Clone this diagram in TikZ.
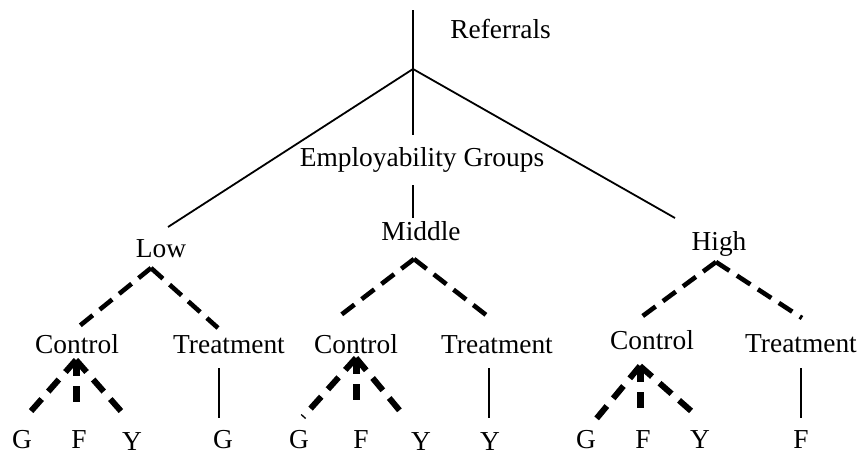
\documentclass[tikz,border=0pt]{standalone}
\usepackage{fontspec}
\setmainfont{Liberation Serif}
\usetikzlibrary{positioning}
\begin{document}
\begin{tikzpicture}
[x=0.5pt,y=-0.5pt,
 lbl/.style={inner sep=0pt,anchor=base,font=\fontsize{13.7}{16}\selectfont},
 solidline/.style={line width=0.9pt},
 caret/.style={line width=2.3pt,dash pattern=on 8pt off 4.5pt},
 leafline/.style={line width=3pt,dash pattern=on 8pt off 5pt}]
\useasboundingbox (0,0) rectangle (859,455);

% referrals and groups
\coordinate (top) at (413,10);
\coordinate (root) at (413,69);
\coordinate (empup) at (413,135);
\coordinate (empdown) at (413,185);
\coordinate (midup) at (413,218);
\coordinate (lowend) at (168,227);
\coordinate (highend) at (675,218);
\node[lbl,anchor=base west] (ref) at (450,39) {Referrals};
\node[lbl] (emp) at (422,166) {Employability Groups};
\node[lbl] (low) at (161,257) {Low};
\node[lbl] (mid) at (421,240) {Middle};
\node[lbl] (high) at (719,250) {High};

\draw [solidline] (top) -- (root);
\draw [solidline] (root) -- (empup);
\draw [solidline] (root) -- (lowend);
\draw [solidline] (root) -- (highend);
\draw [solidline] (empdown) -- (midup);

% low
\coordinate (lowtop) at (151,268);
\coordinate (lowleft) at (77,328);
\coordinate (lowright) at (218,328);
\node[lbl] (lowC) at (77,353) {Control};
\node[lbl] (lowT) at (229,353) {Treatment};
\coordinate (lowCa) at (76,360);
\coordinate (lowG0) at (25,418);
\coordinate (lowF0) at (76,405);
\coordinate (lowY0) at (127,418);
\node[lbl] (lowG) at (22,448) {G};
\node[lbl] (lowF) at (79,448) {F};
\node[lbl] (lowY) at (132,450) {Y};
\coordinate (lowTa) at (219,368);
\coordinate (lowTb) at (219,418);
\node[lbl] (lowTG) at (223,448) {G};

\draw [caret] (lowtop) -- (lowleft);
\draw [caret] (lowtop) -- (lowright);
\draw [leafline] (lowCa) -- (lowG0);
\draw [leafline,line width=3.5pt] (lowCa) -- (lowF0);
\draw [leafline] (lowCa) -- (lowY0);
\draw [solidline] (lowTa) -- (lowTb);

% middle
\coordinate (midtop) at (414,259);
\coordinate (midleft) at (337,318);
\coordinate (midright) at (490,318);
\node[lbl] (midC) at (356,353) {Control};
\node[lbl] (midT) at (497,353) {Treatment};
\coordinate (midCa) at (356,358);
\coordinate (midG0) at (303,417);
\coordinate (midF0) at (356,405);
\coordinate (midY0) at (405,417);
\node[lbl] (midG) at (299,448) {G};
\node[lbl] (midF) at (361,448) {F};
\node[lbl] (midY) at (421,450) {Y};
\coordinate (midTa) at (489,368);
\coordinate (midTb) at (489,418);
\node[lbl] (midTY) at (490,450) {Y};

\draw [caret] (midtop) -- (midleft);
\draw [caret] (midtop) -- (midright);
\draw [leafline] (midCa) -- (midG0);
\draw [leafline,line width=3.5pt] (midCa) -- (midF0);
\draw [leafline] (midCa) -- (midY0);
\draw [solidline] (midTa) -- (midTb);

% high
\coordinate (hightop) at (716,262);
\coordinate (highleft) at (640,318);
\coordinate (highright) at (802,318);
\node[lbl] (highC) at (652,350) {Control};
\node[lbl] (highT) at (801,352) {Treatment};
\coordinate (highCa) at (640,366);
\coordinate (highG0) at (592,424);
\coordinate (highF0) at (640,416);
\coordinate (highY0) at (698,417);
\node[lbl] (highG) at (586,448) {G};
\node[lbl] (highF) at (643,448) {F};
\node[lbl] (highY) at (700,448) {Y};
\coordinate (highTa) at (801,368);
\coordinate (highTb) at (801,418);
\node[lbl] (highTF) at (801,448) {F};

\draw [caret] (hightop) -- (highleft);
\draw [caret] (hightop) -- (highright);
\draw [leafline] (highCa) -- (highG0);
\draw [leafline,line width=3.5pt] (highCa) -- (highF0);
\draw [leafline] (highCa) -- (highY0);
\draw [solidline] (highTa) -- (highTb);
\end{tikzpicture}
\end{document}
